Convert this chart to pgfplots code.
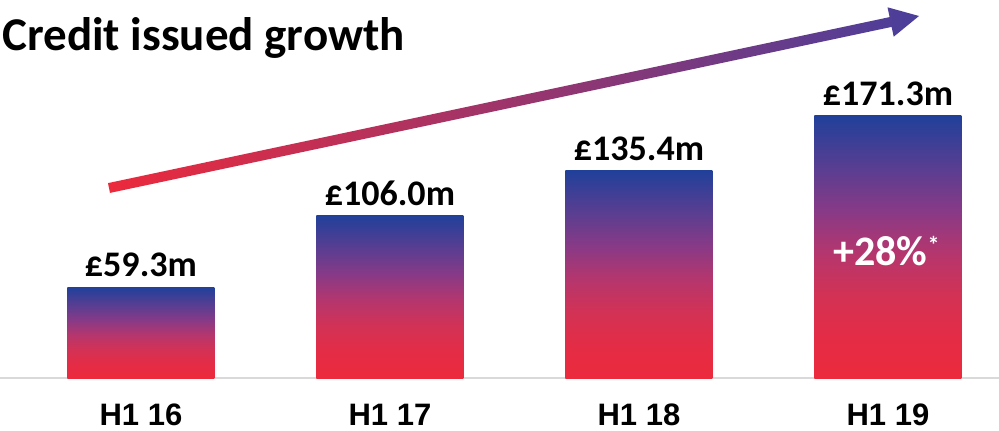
\documentclass[border=0pt]{standalone}
\usepackage{fontspec}
\setmainfont{Carlito}
\newfontfamily\arial{Liberation Sans}
\usepackage{pgfplots}
\pgfplotsset{compat=1.18}
\definecolor{arrred}{RGB}{236,42,60}
\definecolor{arrpurple}{RGB}{74,63,155}
\definecolor{basegray}{RGB}{217,217,217}
\pgfdeclareverticalshading{barshade}{100bp}{%
  rgb(0bp)=(0.925,0.165,0.235);
  rgb(25bp)=(0.925,0.165,0.235);
  rgb(33bp)=(0.894,0.173,0.275);
  rgb(41bp)=(0.824,0.196,0.333);
  rgb(49bp)=(0.706,0.212,0.431);
  rgb(57bp)=(0.530,0.227,0.529);
  rgb(65bp)=(0.350,0.243,0.569);
  rgb(75bp)=(0.129,0.251,0.604);
  rgb(100bp)=(0.129,0.251,0.604)}
\begin{document}
\begin{tikzpicture}
\begin{axis}[
  at={(0pt,26pt)}, anchor=south west,
  scale only axis, width=499.5pt, height=189pt,
  xmin=-0.566, xmax=3.446, ymin=0, ymax=247.1,
  axis x line=bottom, axis y line=none,
  axis line style={basegray, line width=0.75pt, -},
  xtick={0,1,2,3}, xticklabels={H1 16,H1 17,H1 18,H1 19},
  major tick length=0pt,
  xticklabel style={anchor=base, yshift=-23.5pt, inner sep=0pt, font=\arial\bfseries\fontsize{15.5}{18}\selectfont},
  ybar, bar width=73.5pt,
  clip=false,
  point meta=explicit symbolic,
  nodes near coords,
  every node near coord/.append style={anchor=south, inner sep=0pt, yshift=5pt, font=\bfseries\fontsize{18}{21}\selectfont, text=black},
]
\addplot[draw=none, shading=barshade, bar shift=0pt] coordinates {(0,59.3) [£59.3m]};
\addplot[draw=none, shading=barshade, bar shift=0pt] coordinates {(1,106.0) [£106.0m]};
\addplot[draw=none, shading=barshade, bar shift=0pt] coordinates {(2,135.4) [£135.4m]};
\addplot[draw=none, shading=barshade, bar shift=0pt] coordinates {(3,171.3) [£171.3m]};
\end{axis}
\begin{scope}[x=1pt,y=1pt]
\shade[left color=arrred, right color=arrpurple]
  (55.0,118.55) -- (54.0,123.45) -- (444.8,206.45) -- (443.75,211.35) -- (459.5,207.0) -- (446.85,196.65) -- (445.8,201.55) -- cycle;
\node[anchor=base west, inner sep=0pt, font=\bfseries\fontsize{23.5}{27}\selectfont] at (1,190) {Credit issued growth};
\node[anchor=base, inner sep=0pt, text=white, font=\bfseries\fontsize{21}{25}\selectfont] at (443.25,82.5) {+28\%\raisebox{0.55ex}{\fontsize{12}{14}\selectfont*}};
\end{scope}
\pgfresetboundingbox
\useasboundingbox (0,0) rectangle (499.5pt,215pt);
\end{tikzpicture}
\end{document}
